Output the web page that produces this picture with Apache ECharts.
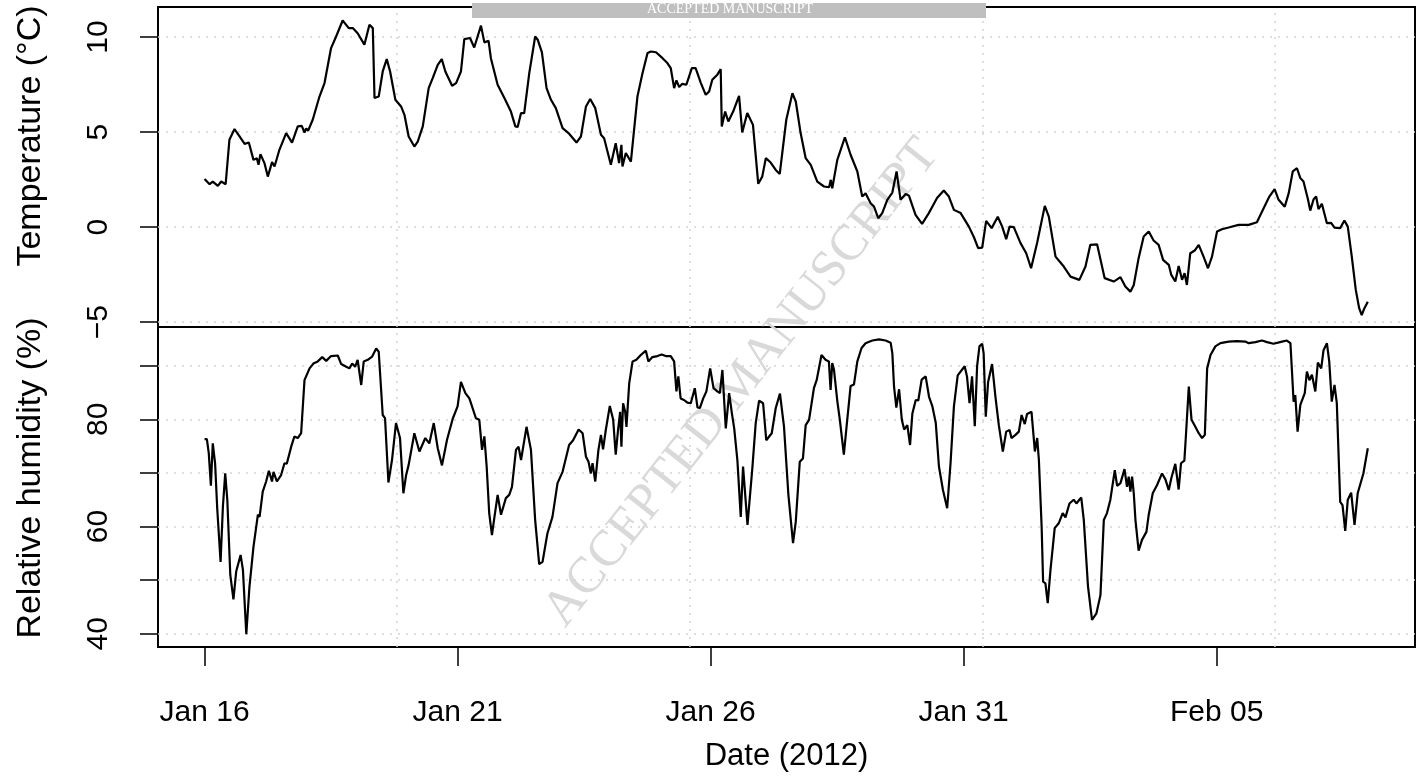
<!DOCTYPE html>
<html>
<head>
<meta charset="utf-8">
<title>Temperature and relative humidity, January–February 2012</title>
<script src="https://cdn.jsdelivr.net/npm/echarts@6/dist/echarts.min.js"></script>
<style>
  html, body { margin: 0; padding: 0; background: #fff; }
  #chart { width: 1417px; height: 783px; }
</style>
</head>
<body>
<div id="chart"></div>
<script>
// Time is given in hours after 16 Jan 2012 00:00.
const tickHours = [0, 120, 240, 360, 480];
const tickNames = ['Jan 16', 'Jan 21', 'Jan 26', 'Jan 31', 'Feb 05'];

const tempTicks = [-5, 0, 5, 10];
const rhTicks = [40, 50, 60, 70, 80, 90];
const rhLabelTicks = [40, 60, 80];

// Air temperature (°C)
const tempHours = [
  0, 2.4, 3.9, 6.3, 7.9, 10, 11.8, 14.2, 16.6, 19, 21, 23.2, 24.8, 25.6, 26.5, 28.4, 30, 32, 33.2, 35.5,
  38.7, 41.5, 44.2, 46.1, 47.4, 48.2, 49.1, 51.3, 54.5, 56.9, 60, 62.4, 65.5, 66.3, 68.4, 70.3, 72.6, 75.8, 78.2, 79.8,
  80.6, 82.6, 84.5, 86.4, 88, 90.5, 93.2, 94.8, 96.8, 99.5, 101.1, 103.5, 106.3, 108.2, 110.6, 112.5, 114.2, 117.4, 119.3, 121.6,
  123.2, 125.9, 127.9, 129.5, 131.1, 132.7, 134.7, 135.8, 139, 142.2, 145.3, 147.4, 148.5, 150.1, 151.6, 154, 156.8, 158, 160, 162.2,
  164.3, 166.6, 169.8, 172.6, 176.4, 178.5, 180.9, 182.9, 185.3, 188, 189.5, 192.7, 195, 196.6, 197.7, 198.2, 199.8, 202.2, 205.3, 207.7,
  210.1, 211.7, 214.1, 217.2, 219.5, 221.1, 222.7, 223.8, 225.1, 226.6, 228.5, 231.1, 232.9, 235.4, 237.7, 239.3, 240.8, 243.2, 244.8, 245.3,
  246.9, 248.4, 250.7, 253.5, 255, 257.4, 260.1, 262.6, 264.5, 266.2, 268.5, 270.9, 272.8, 275.9, 278.8, 280.4, 282.7, 285.1, 287.5, 290.6,
  293.8, 296.2, 297, 297.7, 300.1, 303.7, 306.4, 309.6, 311.9, 313.5, 315.9, 317.5, 319.5, 321.4, 323.8, 326.2, 328.2, 330.1, 332.5, 334.1,
  337.2, 340.3, 343.5, 347.4, 350.6, 353, 355.4, 358.6, 362.5, 364.9, 366.9, 368.8, 370.7, 373.3, 376.2, 378.3, 380.2, 381.8, 383.8, 387,
  389.7, 392, 394.9, 398.5, 400.4, 403.6, 407.5, 410.7, 414.9, 417.8, 420.1, 423.3, 426.9, 431.2, 434.4, 436.7, 439.1, 440.7, 443, 445.4,
  447.8, 450.1, 452.5, 454.6, 457.3, 458.5, 460.4, 462, 463.6, 464.8, 465.9, 467.5, 469.6, 471.5, 473.8, 475.9, 477.8, 480.2, 482.5, 485.7,
  490.4, 495.2, 499.1, 502.3, 505, 507.5, 509.4, 512.3, 514.2, 516.1, 518.1, 519.7, 521.2, 523.3, 524.4, 526, 527.2, 528.3, 529.9, 532.3,
  534.3, 535.9, 538.6, 540.6, 542.2, 544.1, 546, 547.6, 548.8, 550.1, 551.7
];
const tempC = [
  2.54, 2.26, 2.4, 2.17, 2.4, 2.26, 4.6, 5.16, 4.77, 4.38, 4.45, 3.54, 3.63, 3.28, 3.84, 3.37, 2.66, 3.42, 3.19, 4.07,
  4.95, 4.45, 5.3, 5.33, 4.98, 5.2, 5.07, 5.65, 6.87, 7.58, 9.42, 10.03, 10.87, 10.9, 10.47, 10.47, 10.2, 9.6, 10.65, 10.47,
  6.79, 6.87, 8.19, 8.84, 8.19, 6.7, 6.35, 5.91, 4.77, 4.24, 4.5, 5.3, 7.31, 7.84, 8.54, 8.84, 8.19, 7.44, 7.58, 8.19,
  9.89, 9.95, 9.45, 10.03, 10.6, 9.72, 9.8, 8.89, 7.49, 6.79, 6.08, 5.3, 5.27, 6.0, 6.0, 8.1, 10.03, 9.86, 9.19, 7.31,
  6.7, 6.26, 5.21, 4.95, 4.45, 4.77, 6.35, 6.74, 6.26, 4.86, 4.68, 3.28, 4.42, 3.37, 4.33, 3.19, 3.9, 3.45, 6.87, 8.1,
  9.16, 9.24, 9.2, 8.89, 8.63, 8.37, 7.31, 7.72, 7.37, 7.54, 7.49, 8.37, 8.37, 7.58, 6.96, 7.14, 7.75, 8.02, 8.31, 5.3,
  6.08, 5.56, 6.08, 6.91, 4.98, 6.0, 5.38, 2.28, 2.66, 3.63, 3.4, 3.01, 2.8, 5.65, 7.05, 6.61, 4.95, 3.63, 3.28, 2.4,
  2.14, 2.1, 2.49, 2.05, 3.54, 4.73, 3.81, 2.93, 1.61, 1.78, 1.26, 1.08, 0.47, 0.74, 1.44, 1.82, 2.93, 1.44, 1.74, 1.65,
  0.65, 0.17, 0.74, 1.53, 1.93, 1.61, 0.91, 0.74, 0.03, -0.53, -1.1, -1.08, 0.33, -0.05, 0.55, 0.03, -0.63, 0.03, 0, -0.84,
  -1.37, -2.16, -0.81, 1.12, 0.56, -1.55, -2.07, -2.6, -2.77, -2.07, -0.93, -0.9, -2.68, -2.86, -2.63, -3.12, -3.39, -3.04, -1.63, -0.49,
  -0.23, -0.7, -0.93, -1.72, -1.98, -2.51, -2.86, -2.04, -2.77, -2.42, -3.04, -1.37, -1.23, -0.93, -1.55, -2.16, -1.55, -0.23, -0.11, -0.02,
  0.12, 0.12, 0.26, 1.0, 1.61, 2.0, 1.44, 1.08, 1.79, 2.93, 3.1, 2.58, 2.4, 1.47, 0.87, 1.47, 1.61, 0.95, 1.23, 0.21,
  0.23, -0.02, -0.05, 0.35, 0.03, -1.55, -3.3, -4.26, -4.62, -4.26, -3.92
];

// Relative humidity (%)
const rhHours = [
  0, 1.1, 2, 3, 3.9, 5, 6, 7.6, 8.7, 9.8, 10.8, 12.2, 13.7, 15, 17.1, 18.2, 19.8, 21.3, 23.2, 25.3,
  26.1, 27.6, 29.2, 30.5, 32, 32.7, 34.3, 36.3, 37.9, 39, 41.1, 42.6, 44.2, 45.8, 47.4, 49.8, 51.6, 53.7, 55.8, 57.7,
  60, 63.2, 64.8, 67.2, 68.7, 70, 71.4, 72.6, 74.3, 75.5, 77.4, 79.5, 81.4, 82.6, 84.5, 85.6, 87.2, 88.9, 90.8, 92.7,
  94.3, 95.6, 96.8, 99.5, 101.9, 104.7, 106.6, 108.7, 110.6, 112.6, 115, 117.7, 120, 121.6, 123.7, 125.6, 128.7, 130.3, 131.6, 132.7,
  133.8, 135, 136.3, 137.4, 139, 140.6, 142.9, 144.5, 145.8, 147.7, 148.9, 150.1, 152.7, 154.8, 156.8, 158.7, 160.3, 162.6, 165, 167.4,
  169.8, 172.9, 174.8, 177.4, 179.3, 180.9, 182.1, 183.2, 184, 185.3, 186.8, 188, 189, 190.3, 192.2, 193.8, 195, 196.1, 197.1, 197.7,
  198.5, 199.5, 200.1, 201.4, 203, 204.8, 206.9, 209.3, 210.5, 212.4, 214.8, 216.8, 218.7, 221.1, 222.7, 223.8, 224.7, 225.8, 227.4, 229,
  230.6, 232.5, 233.8, 234.9, 236.5, 238, 239.8, 241.4, 243.2, 244.4, 245.6, 247.2, 248.8, 250.1, 251.2, 252.7, 254.3, 255.4, 257.5, 259.8,
  261.4, 263, 264.9, 266.4, 269, 270.9, 272.9, 274.8, 276.9, 279.1, 280.4, 282.3, 283.8, 285.1, 286.7, 289, 290.3, 292.6, 294.5, 296.1,
  296.9, 297.7, 298.5, 300.1, 301.3, 303.2, 304.5, 306.4, 308, 309.6, 311.6, 313.5, 316.7, 319.9, 323, 325.4, 326.2, 327, 328.1, 329.4,
  330.7, 331.8, 333.3, 334.6, 335.7, 337.3, 338.5, 340.1, 342, 343.6, 345.2, 346.8, 348.3, 350.2, 352.2, 353.8, 355.4, 357.2, 360.5, 361.6,
  362.8, 364, 365.3, 366.4, 367.5, 368.8, 369.5, 370.5, 371.6, 373.5, 375.1, 376.7, 378.6, 380.2, 381.8, 382.7, 384.6, 386.2, 387.5, 389,
  390.1, 392.2, 393.8, 394.9, 395.7, 397, 397.7, 398.8, 399.9, 401.2, 403.2, 405.1, 407, 408.3, 410.2, 412.2, 413.5, 414.9, 415.8, 417,
  419, 420.9, 423, 424.9, 426.5, 428, 429.6, 431.7, 432.8, 434.4, 436.3, 437.5, 438.3, 439.1, 439.9, 440.7, 441.5, 443, 444.6, 446.7,
  447.8, 449.7, 451.7, 454.1, 455.7, 457.3, 458.5, 460.4, 462, 463.1, 464.7, 465.5, 466.8, 468.1, 469.9, 471.5, 473.1, 474.4, 475.5, 477.1,
  479.4, 481.8, 485.7, 489.6, 493.6, 495.2, 498.4, 501.5, 503.9, 507, 511, 513.3, 515, 515.7, 516.5, 517.3, 518.4, 519.7, 521.8, 522.8,
  524, 525.2, 526.8, 528, 529.6, 530.7, 532.3, 533.4, 534.6, 535.9, 537, 538.6, 539.7, 541, 542.2, 543.8, 545.4, 546.9, 549.6, 551.7
];
const rhPct = [
  76.3, 76.3, 73.7, 67.6, 75.5, 71.8, 63.4, 53.4, 63.7, 69.9, 64.9, 51, 46.4, 51.6, 54.7, 51.9, 39.9, 48.8, 56.2, 62.2,
  61.8, 66.5, 68.4, 70.4, 68.4, 70.2, 68.4, 69.6, 71.8, 71.7, 74.9, 76.8, 76.5, 77.4, 87.3, 89.5, 90.4, 90.8, 91.6, 90.9,
  91.8, 91.9, 90.3, 89.8, 89.5, 90.4, 89.8, 91.1, 86.4, 90.8, 91.1, 91.7, 93.2, 92.6, 80.8, 80.2, 68.2, 72.4, 79.3, 76.5,
  66.2, 69.6, 71.5, 77.4, 74, 76.5, 75.5, 79.3, 74.6, 71.4, 76.2, 80.1, 82.4, 87, 84.9, 83.9, 80.2, 79.9, 74.3, 76.8,
  71.2, 62.5, 58.4, 61.5, 65.9, 62.2, 65.3, 65.9, 67.4, 74.3, 74.9, 72.4, 78.6, 74.3, 61.2, 53, 53.4, 58.7, 61.8, 68.1,
  70.2, 75.2, 76.1, 78.1, 77.4, 73, 72.1, 69.9, 71.8, 68.4, 74.3, 77.1, 74.4, 78, 82.5, 79.9, 73.4, 78, 81.4, 74.9,
  83, 81.4, 78.6, 86.7, 90.8, 91.1, 92, 92.8, 90.8, 91.6, 91.8, 92.1, 91.8, 91.8, 90.8, 85.2, 88, 83.9, 83.6, 83.1,
  83, 85.8, 82.2, 82.1, 83.9, 85.2, 89.5, 85.8, 85.2, 84.9, 89.2, 78.3, 84.9, 81.1, 78.3, 72.4, 61.8, 71.2, 60.3, 70.9,
  79.3, 83.5, 83, 76.1, 77.4, 82.1, 84.8, 78.7, 65.9, 56.9, 60.9, 72.1, 72.7, 78.9, 79.9, 85.8, 87.3, 92, 91.1, 90.8,
  85.5, 90.5, 89.3, 83.4, 79.9, 73.4, 78.7, 86.2, 86.5, 90.8, 93.3, 94.2, 94.7, 94.9, 94.7, 94.3, 92.3, 86.1, 82.2, 85.6,
  79.9, 78.1, 78.9, 75.2, 81.1, 83.6, 83.5, 87.4, 88, 84.2, 82.4, 79.3, 71.2, 66.8, 63.4, 71.8, 82.4, 88.2, 89.9, 88,
  83, 88, 78.7, 89.9, 93.6, 94.1, 92.3, 80.5, 86.9, 90.3, 84.2, 78.9, 74, 77.7, 78, 76.5, 77.1, 77.7, 80.8, 79.1,
  81, 81.4, 74, 76.5, 72.4, 60, 49.7, 49.4, 45.7, 51.9, 59.7, 60.6, 62.5, 61.7, 64.3, 65, 64.3, 65, 65.4, 61.2,
  48.8, 42.6, 43.8, 47.2, 61.2, 62.5, 65, 70.5, 67.6, 68.1, 70.7, 67.4, 69.3, 66.5, 69.3, 66.2, 61.2, 55.5, 57.5, 59,
  62.2, 66.2, 67.7, 69.9, 68.8, 66.8, 69, 71.7, 66.9, 71.8, 72.3, 77.4, 86.1, 79.9, 78.6, 77.4, 76.5, 77.1, 89.5, 92,
  93.6, 94.2, 94.5, 94.6, 94.5, 94.2, 94.4, 94.7, 94.4, 94.1, 94.5, 94.7, 94.2, 89.2, 83.3, 84.5, 77.7, 82.7, 84.9, 88.9,
  87.3, 88.3, 85.2, 90.6, 89.5, 92.9, 94.2, 90.8, 83.3, 86.4, 83, 64.6, 64, 59.2, 65, 66.3, 60.3, 66.2, 69.9, 74.6
];

// Axis extents: data range widened by 4 % on each side
const xMin = -22.08, xMax = 574.08;
const tempMin = -5.25, tempMax = 11.58;
const rhMin = 37.52, rhMax = 97.22;

// Vertical reference lines every 500000 s (epoch-aligned)
const startEpoch = Date.UTC(2012, 0, 16) / 1000;
const gridStep = 500000;
const vGridHours = [];
for (let s = Math.ceil(startEpoch / gridStep) * gridStep; (s - startEpoch) / 3600 <= xMax; s += gridStep) {
  vGridHours.push((s - startEpoch) / 3600);
}

const FONT = '"Liberation Sans", Arial, Helvetica, sans-serif';
const SERIF = '"Liberation Serif", "Times New Roman", serif';
const dotted = { color: '#d3d3d3', type: [2, 6], width: 1.5 };

function gridLines(hValues) {
  return {
    silent: true,
    symbol: 'none',
    z: 1,
    label: { show: false },
    emphasis: { disabled: true },
    animation: false,
    lineStyle: dotted,
    data: vGridHours.map(h => ({ xAxis: h })).concat(hValues.map(v => ({ yAxis: v })))
  };
}

const tickStyle = { color: '#000', width: 1.5 };

const chart = echarts.init(document.getElementById('chart'), null, { renderer: 'canvas' });

chart.setOption({
  animation: false,
  backgroundColor: '#fff',
  textStyle: { fontFamily: FONT },
  grid: [
    { left: 158, top: 7, width: 1257, height: 320, show: true, borderColor: '#000', borderWidth: 2, backgroundColor: 'transparent' },
    { left: 158, top: 327, width: 1257, height: 320, show: true, borderColor: '#000', borderWidth: 2, backgroundColor: 'transparent' }
  ],
  xAxis: [
    {
      gridIndex: 0, type: 'value', min: xMin, max: xMax,
      axisLine: { show: false, onZero: false }, axisTick: { show: false }, axisLabel: { show: false }, splitLine: { show: false }
    },
    {
      gridIndex: 1, type: 'value', min: xMin, max: xMax, position: 'bottom',
      axisLine: { show: false, onZero: false },
      axisTick: { show: true, customValues: tickHours, length: 19, lineStyle: tickStyle },
      axisLabel: {
        customValues: tickHours,
        formatter: v => tickNames[tickHours.indexOf(v)],
        color: '#000', fontSize: 30, fontFamily: FONT, margin: 51
      },
      splitLine: { show: false },
      name: 'Date (2012)', nameLocation: 'middle', nameGap: 94,
      nameTextStyle: { color: '#000', fontSize: 31, fontFamily: FONT }
    }
  ],
  yAxis: [
    {
      gridIndex: 0, type: 'value', min: tempMin, max: tempMax, position: 'left',
      axisLine: { show: false, onZero: false },
      axisTick: { show: true, customValues: tempTicks, length: 18, lineStyle: tickStyle },
      axisLabel: {
        customValues: tempTicks, rotate: 90,
        formatter: v => (v < 0 ? '\u2212' + Math.abs(v) : String(v)),
        color: '#000', fontSize: 30, fontFamily: FONT, margin: 44
      },
      splitLine: { show: false },
      name: 'Temperature (°C)', nameLocation: 'middle', nameRotate: 90, nameGap: 110,
      nameTextStyle: { color: '#000', fontSize: 34, fontFamily: FONT, padding: [0, 0, 0, 62] }
    },
    {
      gridIndex: 1, type: 'value', min: rhMin, max: rhMax, position: 'left',
      axisLine: { show: false, onZero: false },
      axisTick: { show: true, customValues: rhTicks, length: 18, lineStyle: tickStyle },
      axisLabel: {
        customValues: rhLabelTicks, rotate: 90,
        color: '#000', fontSize: 30, fontFamily: FONT, margin: 44
      },
      splitLine: { show: false },
      name: 'Relative humidity (%)', nameLocation: 'middle', nameRotate: 90, nameGap: 110,
      nameTextStyle: { color: '#000', fontSize: 34, fontFamily: FONT, padding: [0, 0, 0, 18] }
    }
  ],
  series: [
    {
      name: 'Temperature', type: 'line', xAxisIndex: 0, yAxisIndex: 0, z: 3,
      data: tempHours.map((h, i) => [h, tempC[i]]),
      showSymbol: false, symbol: 'none',
      lineStyle: { color: '#000', width: 2.2 },
      markLine: gridLines(tempTicks)
    },
    {
      name: 'Relative humidity', type: 'line', xAxisIndex: 1, yAxisIndex: 1, z: 3,
      data: rhHours.map((h, i) => [h, rhPct[i]]),
      showSymbol: false, symbol: 'none',
      lineStyle: { color: '#000', width: 2.2 },
      markLine: gridLines(rhTicks)
    }
  ],
  graphic: [
    {
      type: 'text', z: 2, silent: true,
      x: 742, y: 383, rotation: 51.7 * Math.PI / 180,
      style: {
        text: 'ACCEPTED MANUSCRIPT', fill: '#d9d9d9',
        font: '51px ' + SERIF, textAlign: 'center', textVerticalAlign: 'middle'
      }
    },
    {
      type: 'rect', z: 10, silent: true,
      shape: { x: 472, y: 3, width: 514, height: 15 },
      style: { fill: '#bfbfbf' }
    },
    {
      type: 'text', z: 11, silent: true,
      x: 730, y: 9,
      style: {
        text: 'ACCEPTED MANUSCRIPT', fill: '#ffffff',
        font: '14px ' + SERIF, textAlign: 'center', textVerticalAlign: 'middle'
      }
    }
  ]
});
</script>
</body>
</html>
